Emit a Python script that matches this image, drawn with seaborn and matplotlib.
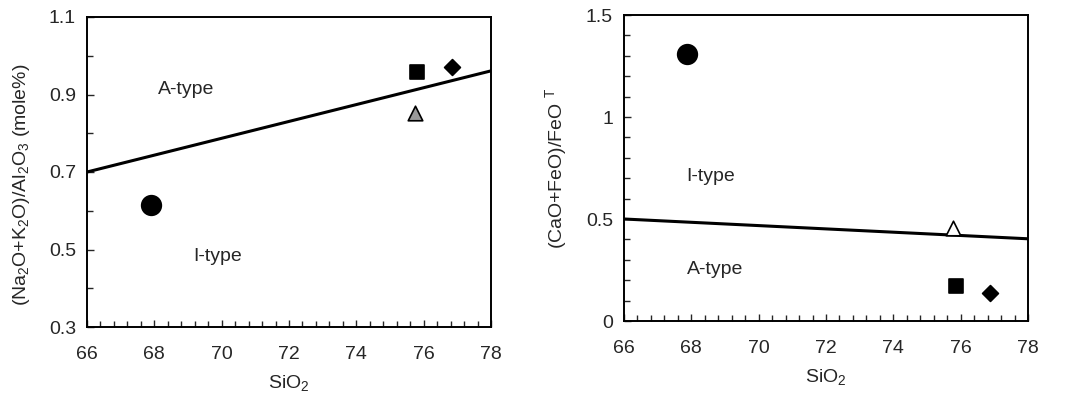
import matplotlib
matplotlib.use("Agg")
import matplotlib.pyplot as plt
import seaborn as sns
import pandas as pd
from matplotlib.ticker import MultipleLocator

sns.set_style("ticks")
plt.rcParams['font.family'] = ['Liberation Sans', 'DejaVu Sans']
plt.rcParams['mathtext.fontset'] = 'custom'
plt.rcParams['mathtext.rm'] = 'Liberation Sans'
plt.rcParams['mathtext.it'] = 'Liberation Sans'

# Sample data
samples = ["circle", "square", "triangle", "diamond"]
sio2_left = [67.9, 75.8, 75.73, 76.84]
ratio_left = [0.615, 0.959, 0.852, 0.972]
sio2_right = [67.86, 75.87, 75.76, 76.87]
ratio_right = [1.307, 0.173, 0.455, 0.139]

# Discrimination lines
line_x = [66, 78]
line_left_y = [0.70, 0.961]
line_right_y = [0.50, 0.403]

marker_map = {"circle": "o", "square": "s", "triangle": "^", "diamond": "D"}
size_map = {"circle": 200, "square": 100, "triangle": 110, "diamond": 65}

FS = 14

fig = plt.figure(figsize=(10.9, 3.99), dpi=100)
ax1 = fig.add_axes([87/1090, 1-327/399, 404/1090, 310/399])
ax2 = fig.add_axes([624/1090, 1-321/399, 404/1090, 306/399])

def draw(ax, xs, ys, ly, tri_face):
    df = pd.DataFrame({"x": xs, "y": ys, "s": samples})
    sns.lineplot(x=line_x, y=ly, ax=ax, color="black", lw=2.2)
    for name, m in marker_map.items():
        d = df[df.s == name]
        fc = tri_face if name == "triangle" else "black"
        sns.scatterplot(data=d, x="x", y="y", marker=m, s=size_map[name],
                        color=fc, edgecolor="black", linewidth=1.2, ax=ax, zorder=3)
    ax.set_xlim(66, 78)
    ax.xaxis.set_major_locator(MultipleLocator(2))
    ax.xaxis.set_minor_locator(MultipleLocator(0.4))
    for s in ax.spines.values():
        s.set_linewidth(1.4)
        s.set_color("black")
    ax.tick_params(which="major", direction="in", length=5, width=1, labelsize=FS)
    ax.tick_params(axis="x", which="major", pad=14)
    ax.tick_params(axis="y", which="major", pad=8)
    ax.tick_params(which="minor", direction="in", length=4, width=1)
    ax.set_xlabel("SiO$_2$", fontsize=FS, labelpad=7)

draw(ax1, sio2_left, ratio_left, line_left_y, "#9a9a9a")
ax1.set_ylim(0.3, 1.1)
ax1.set_yticks([0.3, 0.5, 0.7, 0.9, 1.1])
ax1.set_yticklabels(["0.3", "0.5", "0.7", "0.9", "1.1"])
ax1.yaxis.set_minor_locator(MultipleLocator(0.1))
ax1.set_ylabel("(Na$_2$O+K$_2$O)/Al$_2$O$_3$ (mole%)", fontsize=FS, labelpad=8)
ax1.yaxis.set_label_coords(-0.135, 0.46)
ax1.text(68.1, 0.914, "A-type", fontsize=FS, va="center", ha="left")
ax1.text(69.15, 0.483, "I-type", fontsize=FS, va="center", ha="left")

draw(ax2, sio2_right, ratio_right, line_right_y, "white")
ax2.set_ylim(0, 1.5)
ax2.set_yticks([0, 0.5, 1, 1.5])
ax2.set_yticklabels(["0", "0.5", "1", "1.5"])
ax2.yaxis.set_minor_locator(MultipleLocator(0.1))
ax2.set_ylabel("(CaO+FeO)/FeO $^{T}$", fontsize=FS, labelpad=12)
ax2.text(67.86, 0.71, "I-type", fontsize=FS, va="center", ha="left")
ax2.text(67.86, 0.25, "A-type", fontsize=FS, va="center", ha="left")

fig.savefig("out.png", dpi=100)
